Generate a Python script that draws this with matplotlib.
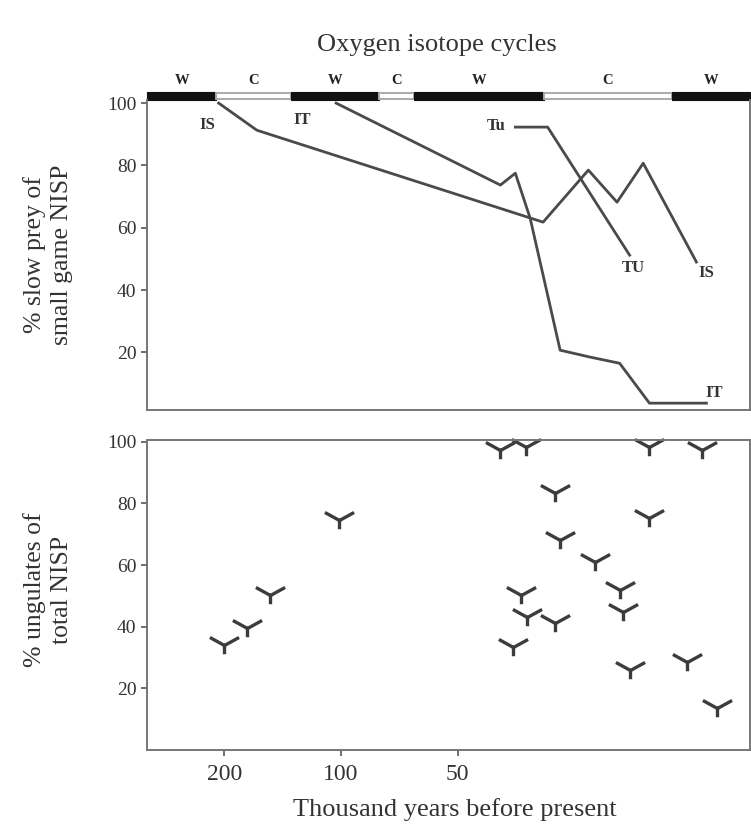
import matplotlib
matplotlib.use("Agg")
import matplotlib.pyplot as plt
from matplotlib.ticker import FixedLocator, FixedFormatter, NullLocator
from matplotlib.patches import Rectangle
from matplotlib.path import Path
import numpy as np

plt.rcParams['font.family'] = ['Liberation Serif', 'DejaVu Serif']

# oxygen isotope stages (kya boundaries, warm / cold)
stage_edges = [317, 210, 135, 80, 65, 30, 14, 8.8]
stage_labels = ['W', 'C', 'W', 'C', 'W', 'C', 'W']

# % slow prey of small game NISP
is_kya = [207, 165, 30.1, 23.0, 19.4, 16.6, 12.1]
is_pct = [100, 91.3, 61.8, 78.5, 68.2, 80.7, 49]
it_kya = [103, 38.8, 35.5, 32.5, 27.2, 22.8, 19.1, 16.0, 11.4]
it_pct = [100, 73.7, 77.5, 63, 20.7, 18.5, 16.5, 3.7, 3.7]
tu_kya = [35.5, 29.3, 18.0]
tu_pct = [92.3, 92.3, 51.2]

# % ungulates of total NISP
ung_kya = [201, 175, 153, 101, 38.8, 33.4, 28.0, 27.2, 22.1, 16.0, 19.1,
           18.7, 34.4, 33.1, 28.0, 36.1, 18.0, 12.8, 10.7, 16.0, 11.7]
ung_pct = [34.1, 39.6, 50.3, 74.7, 97.4, 98.4, 83.4, 68.2, 61.0, 75.3, 52.0,
           44.8, 50.3, 43.2, 41.2, 33.4, 26.0, 28.6, 13.6, 98.4, 97.4]

xticks = [200, 100, 50]
yticks = [20, 40, 60, 80, 100]

# flat-armed "Y" marker like the printed symbol
ymark = Path([(0, 0), (-1, 0.55), (0, 0), (1, 0.55), (0, 0), (0, -0.6)],
             [Path.MOVETO, Path.LINETO, Path.MOVETO, Path.LINETO,
              Path.MOVETO, Path.LINETO])

W, H = 751, 826
fig = plt.figure(figsize=(W / 100, H / 100), dpi=100)
left, right = 147 / W, 750 / W
ax1 = fig.add_axes([left, 1 - 410 / H, right - left, 310 / H])
ax2 = fig.add_axes([left, 1 - 750 / H, right - left, 310 / H], sharex=ax1)

lc = '#4a4a4a'
for ax in (ax1, ax2):
    ax.set_xscale('log')
    for s in ax.spines.values():
        s.set_color('#777777')
        s.set_linewidth(1.4)
    ax.tick_params(axis='y', direction='out', length=4, width=1.2,
                   colors='#555555', labelsize=14, labelcolor='#333333')
    ax.yaxis.set_major_locator(FixedLocator(yticks))
ax1.set_xlim(317, 8.8)
ax1.set_ylim(1.5, 101)
ax2.set_ylim(0, 100.6)

ax1.xaxis.set_major_locator(NullLocator())
ax1.xaxis.set_minor_locator(NullLocator())
ax1.tick_params(axis='x', bottom=False, labelbottom=False)
ax1.spines['top'].set_visible(False)

ax2.xaxis.set_major_locator(FixedLocator(xticks))
ax2.xaxis.set_major_formatter(FixedFormatter([str(t) for t in xticks]))
ax2.xaxis.set_minor_locator(NullLocator())
ax2.tick_params(axis='x', direction='out', length=4, width=1.2, colors='#555555',
                labelsize=17, labelcolor='#333333', pad=6)

# isotope bar on top of the upper panel
tr = ax1.get_xaxis_transform()
for i, lab in enumerate(stage_labels):
    x0, x1 = stage_edges[i], stage_edges[i + 1]
    if lab == 'W':
        r = Rectangle((x1, 1.0), x0 - x1, 0.026, transform=tr, facecolor='#111111',
                      edgecolor='#111111', lw=0.8, clip_on=False)
    else:
        r = Rectangle((x1, 1.003), x0 - x1, 0.02, transform=tr, facecolor='white',
                      edgecolor='#aaaaaa', lw=1.4, clip_on=False)
    ax1.add_patch(r)
    ax1.text(np.sqrt(x0 * x1), 1.062, lab, transform=tr, ha='center', va='center',
             fontsize=10.5, fontweight='bold', color='#222222')
fig.text(437 / W, 1 - 45 / H, 'Oxygen isotope cycles', ha='center', va='center',
         fontsize=19, color='#333333')

# upper panel lines
for xs, ys in ((is_kya, is_pct), (it_kya, it_pct), (tu_kya, tu_pct)):
    ax1.plot(xs, ys, color=lc, lw=2)
lab_kw = dict(fontsize=12, fontweight='bold', color='#333333', va='center')
ax1.text(222, 93, 'IS', ha='center', **lab_kw)
ax1.text(126, 94.5, 'IT', ha='center', **lab_kw)
ax1.text(37.5, 92.5, 'Tu', ha='right', **lab_kw)
ax1.text(17.6, 47, 'TU', ha='center', **lab_kw)
ax1.text(11.4, 45.5, 'IS', ha='center', **lab_kw)
ax1.text(10.9, 7, 'IT', ha='center', **lab_kw)

# lower panel markers
ax2.plot(ung_kya, ung_pct, linestyle='none', marker=ymark, markersize=21,
         markeredgewidth=2.4, color='#3c3c3c', clip_on=False)

fig.text(48 / W, 1 - 255 / H, '% slow prey of\nsmall game NISP', rotation=90,
         ha='center', va='center', fontsize=18.5, color='#333333', linespacing=1.3)
fig.text(48 / W, 1 - 590 / H, '% ungulates of\ntotal NISP', rotation=90,
         ha='center', va='center', fontsize=18.5, color='#333333', linespacing=1.3)
fig.text(455 / W, 1 - 810 / H, 'Thousand years before present', ha='center',
         va='center', fontsize=19, color='#333333')

fig.savefig('out.png', dpi=100)
